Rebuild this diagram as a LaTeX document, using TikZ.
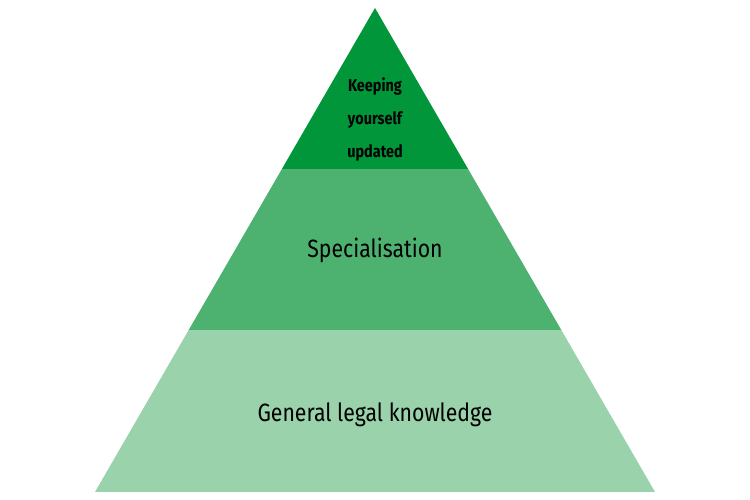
\documentclass[tikz,border=0pt]{standalone}
\usepackage{fontspec}
\setmainfont{Fira Sans}
\definecolor{gA}{HTML}{009639}
\definecolor{gB}{HTML}{4DB270}
\definecolor{gC}{HTML}{99D2AB}
\begin{document}
\begin{tikzpicture}[x=1pt,y=1pt,tier/.style={draw=none},lbl/.style={align=center,text=black,inner sep=0pt}]
\useasboundingbox (0,0) rectangle (750,500);
\fill[gC] (95,8) -- (655,8) -- (561.3,170) -- (188.7,170) -- cycle;
\fill[gB] (188.7,170) -- (561.3,170) -- (468.1,331) -- (281.9,331) -- cycle;
\fill[gA] (281.9,331) -- (468.1,331) -- (375,492) -- cycle;
\node[lbl,font=\fontsize{17}{33}\selectfont\bfseries\addfontfeature{FakeStretch=0.85}] (top) at (375,381) {Keeping\\yourself\\updated};
\node[lbl,font=\fontsize{25}{30}\selectfont\addfontfeature{FakeStretch=0.85}] (mid) at (375,250) {Specialisation};
\node[lbl,font=\fontsize{25}{30}\selectfont\addfontfeature{FakeStretch=0.85}] (bot) at (375,85) {General legal knowledge};
\end{tikzpicture}
\end{document}
